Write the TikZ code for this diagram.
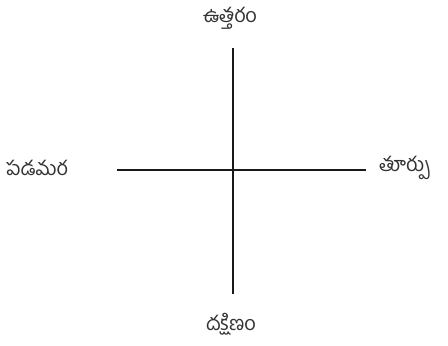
\documentclass[tikz,border=0pt]{standalone}
\usepackage{fontspec}
\newfontfamily\telugufont[Script=Telugu]{Hind Guntur}
\usepackage{tikz}
\tikzset{
  axisline/.style = {line width=2.6pt,black!90},
  dirlabel/.style = {font=\telugufont\fontsize{20}{24}\selectfont,text=black!80,inner sep=0pt}
}

\begin{document}
\begin{tikzpicture}[x=1pt,y=-1pt]
  \useasboundingbox (0,0) rectangle (448,346);
  \coordinate (top)    at (233,48);
  \coordinate (bottom) at (233,294);
  \coordinate (left)   at (117,170);
  \coordinate (right)  at (366,170);
  \draw[axisline] (top) -- (bottom);
  \draw[axisline] (left) -- (right);
  \node[dirlabel] (north) at (230,18)  {ఉత్తరం};
  \node[dirlabel] (south) at (231,324) {దక్షిణం};
  \node[dirlabel,anchor=west] (west) at (6,168)  {పడమర};
  \node[dirlabel,anchor=west] (east) at (379,168) {తూర్పు};
\end{tikzpicture}
\end{document}
